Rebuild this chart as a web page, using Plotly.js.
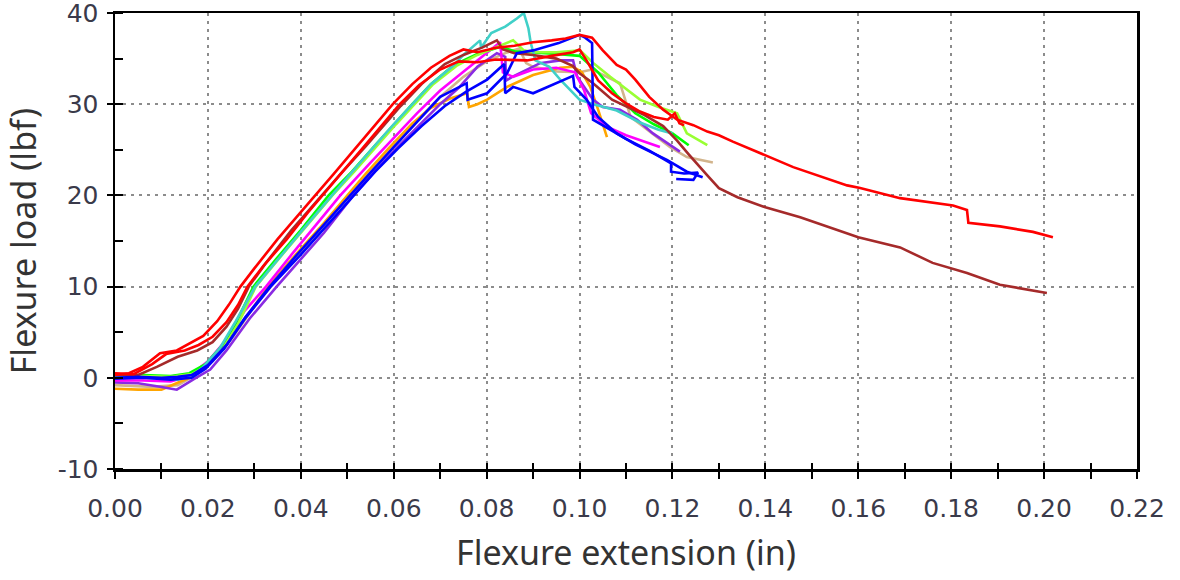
<!DOCTYPE html>
<html>
<head>
<meta charset="utf-8">
<script src="https://cdn.plot.ly/plotly-3.0.1.min.js"></script>
<style>html,body{margin:0;padding:0;background:#fff;}#chart{width:1180px;height:580px;}</style>
</head>
<body>
<div id="chart"></div>
<script>
// Flexure extension (in) / Flexure load (lbf)
const red1X = [0, 0.003, 0.006, 0.0097, 0.0133, 0.016, 0.019, 0.022, 0.0245, 0.027, 0.03, 0.035, 0.04, 0.0431, 0.047, 0.052, 0.056, 0.0598, 0.064, 0.068, 0.072, 0.075, 0.078, 0.082, 0.086, 0.09, 0.094, 0.097, 0.1, 0.1015, 0.1027, 0.105, 0.108, 0.11, 0.112, 0.115, 0.118, 0.121, 0.1245, 0.1275, 0.13, 0.133, 0.14, 0.146, 0.1576, 0.1604, 0.169, 0.1804, 0.1834, 0.1837, 0.1905, 0.1976, 0.2019];
const red1Y = [0.3, 0.5, 1.2, 2.7, 3.0, 3.8, 4.6, 6.2, 8.0, 10.0, 12.0, 15.2, 18.1, 20.0, 22.3, 25.3, 27.7, 30.0, 32.2, 34.0, 35.3, 36.0, 35.7, 36.2, 36.4, 36.8, 37.0, 37.2, 37.6, 37.4, 37.3, 35.9, 34.3, 33.8, 32.7, 30.8, 29.4, 28.3, 27.7, 27.0, 26.6, 25.9, 24.4, 23.1, 21.1, 20.8, 19.7, 18.9, 18.4, 17.0, 16.6, 16.0, 15.4];

const red2X = [0, 0.004, 0.008, 0.011, 0.015, 0.018, 0.021, 0.024, 0.0265, 0.0285, 0.032, 0.037, 0.0415, 0.0446, 0.0485, 0.0535, 0.0575, 0.0613, 0.0655, 0.07, 0.074, 0.078, 0.082, 0.0887, 0.094, 0.0986, 0.1, 0.1015, 0.104, 0.107, 0.11, 0.113, 0.116, 0.119, 0.1205, 0.1215, 0.1225];
const red2Y = [0.5, 0.4, 1.5, 2.6, 3.0, 3.6, 4.5, 6.1, 8.0, 10.0, 12.3, 15.2, 18.1, 20.0, 22.3, 25.3, 27.7, 30.0, 32.1, 33.8, 34.7, 34.6, 34.9, 34.8, 35.3, 35.7, 36.0, 34.8, 32.6, 31.2, 30.1, 29.2, 28.6, 28.3, 29.0, 27.9, 27.7];

const brownX = [0, 0.005, 0.009, 0.0135, 0.0177, 0.021, 0.024, 0.0265, 0.0288, 0.0325, 0.038, 0.0445, 0.049, 0.054, 0.0575, 0.0615, 0.066, 0.071, 0.075, 0.079, 0.0822, 0.0835, 0.086, 0.09, 0.095, 0.0985, 0.1, 0.1029, 0.107, 0.11, 0.114, 0.118, 0.121, 0.1235, 0.1255, 0.1275, 0.13, 0.134, 0.14, 0.1475, 0.16, 0.169, 0.176, 0.1834, 0.1905, 0.2006];
const brownY = [0.3, 0.3, 1.2, 2.3, 3.0, 3.9, 5.6, 7.6, 10.0, 12.6, 16.2, 20.0, 22.6, 25.4, 27.4, 29.8, 32.2, 34.4, 35.4, 36.2, 37.0, 36.0, 35.6, 35.4, 35.0, 34.2, 33.4, 32.3, 30.5, 29.8, 28.8, 27.6, 26.0, 24.5, 23.3, 22.2, 20.8, 19.8, 18.7, 17.6, 15.4, 14.3, 12.6, 11.5, 10.2, 9.3];

const greenX = [0, 0.006, 0.012, 0.016, 0.0195, 0.023, 0.026, 0.0298, 0.035, 0.04, 0.046, 0.051, 0.056, 0.06, 0.064, 0.068, 0.073, 0.078, 0.083, 0.086, 0.09, 0.095, 0.1, 0.104, 0.108, 0.112, 0.116, 0.12, 0.1235];
const greenY = [0.3, 0.3, 0.2, 0.5, 1.5, 3.5, 6.0, 10.0, 13.2, 16.2, 20.0, 22.6, 25.5, 27.8, 30.0, 32.2, 34.3, 35.5, 36.3, 35.8, 35.7, 35.5, 35.3, 33.5, 31.0, 29.0, 27.8, 26.8, 25.5];

const limeX = [0, 0.006, 0.012, 0.0165, 0.02, 0.0235, 0.0265, 0.0303, 0.0355, 0.0405, 0.0468, 0.0515, 0.0565, 0.0605, 0.0645, 0.0685, 0.0735, 0.078, 0.0857, 0.088, 0.09, 0.095, 0.1001, 0.103, 0.1066, 0.1102, 0.113, 0.117, 0.121, 0.1231, 0.1275];
const limeY = [0.2, 0.2, 0.1, 0.4, 1.4, 3.4, 5.9, 10.0, 13.2, 16.2, 20.0, 22.6, 25.5, 27.8, 30.0, 32.2, 34.2, 35.4, 37.0, 35.9, 35.7, 35.7, 35.9, 34.5, 33.0, 31.6, 30.5, 29.7, 29.0, 26.8, 25.5];

const cyanX = [0, 0.006, 0.012, 0.0135, 0.0175, 0.019, 0.0225, 0.026, 0.0302, 0.035, 0.04, 0.0467, 0.051, 0.056, 0.06, 0.064, 0.068, 0.073, 0.075, 0.0786, 0.0788, 0.081, 0.084, 0.0865, 0.088, 0.089, 0.0895, 0.0905, 0.0935, 0.096, 0.098, 0.1, 0.103, 0.108, 0.113, 0.117, 0.12];
const cyanY = [0.2, 0.0, -0.2, -0.2, 0.5, 1.2, 3.2, 6.2, 10.0, 13.0, 16.0, 20.0, 22.6, 25.5, 27.8, 30.0, 32.2, 34.3, 35.4, 37.0, 36.2, 37.8, 38.5, 39.4, 40.0, 38.3, 36.7, 34.8, 34.1, 32.6, 31.6, 30.5, 30.0, 29.3, 28.0, 27.2, 26.8];

const orangeX = [0, 0.005, 0.01, 0.0133, 0.016, 0.0198, 0.023, 0.027, 0.033, 0.038, 0.044, 0.0499, 0.054, 0.059, 0.064, 0.068, 0.072, 0.0758, 0.0762, 0.078, 0.0801, 0.0844, 0.09, 0.0958, 0.0986, 0.1005, 0.1023, 0.104, 0.1059];
const orangeY = [-1.2, -1.3, -1.3, -0.6, 0.0, 1.2, 3.2, 5.8, 10.0, 13.0, 16.4, 20.0, 22.4, 25.2, 27.9, 29.6, 30.6, 31.2, 29.7, 30.0, 30.5, 31.9, 33.2, 34.0, 34.1, 33.5, 31.9, 29.4, 26.4];

const purpleX = [0, 0.005, 0.01, 0.0133, 0.0168, 0.0205, 0.024, 0.029, 0.0348, 0.04, 0.045, 0.0513, 0.056, 0.061, 0.066, 0.07, 0.074, 0.078, 0.0822, 0.084, 0.0842, 0.0855, 0.0915, 0.0958, 0.0986, 0.0995, 0.1029, 0.105, 0.1087, 0.1124, 0.1158, 0.1216];
const purpleY = [-0.5, -0.6, -1.0, -1.3, -0.2, 0.9, 3.0, 6.5, 10.0, 13.0, 15.9, 20.0, 22.7, 25.4, 28.0, 30.0, 31.8, 34.1, 35.6, 35.2, 32.6, 33.0, 34.5, 34.8, 34.8, 33.0, 30.5, 29.7, 29.4, 28.3, 26.8, 24.8];

const tanX = [0, 0.008, 0.0135, 0.017, 0.021, 0.025, 0.0295, 0.034, 0.04, 0.0505, 0.055, 0.06, 0.065, 0.07, 0.075, 0.08, 0.084, 0.087, 0.0885, 0.09, 0.095, 0.1, 0.1027, 0.1087, 0.1094, 0.111, 0.1195, 0.1231, 0.1287];
const tanY = [-0.8, -1.0, -0.8, 0.2, 1.8, 4.2, 7.5, 10.3, 13.8, 20.0, 22.6, 25.4, 28.2, 30.8, 33.0, 34.7, 35.6, 36.1, 34.5, 34.1, 33.6, 33.5, 33.8, 32.3, 31.2, 28.6, 25.3, 24.2, 23.6];

const magentaX = [0, 0.006, 0.012, 0.016, 0.02, 0.024, 0.028, 0.0325, 0.038, 0.0485, 0.055, 0.06, 0.065, 0.07, 0.075, 0.079, 0.0829, 0.0835, 0.0857, 0.09, 0.095, 0.099, 0.101, 0.1025, 0.106, 0.11, 0.1173];
const magentaY = [-0.3, -0.3, -0.4, 0.2, 1.8, 4.2, 7.4, 10.0, 13.5, 20.0, 23.6, 26.3, 29.0, 31.5, 33.6, 35.2, 36.8, 33.5, 33.0, 33.8, 34.0, 33.5, 31.5, 29.0, 27.5, 26.6, 25.3];

const blueAX = [0, 0.005, 0.01, 0.0135, 0.0165, 0.02, 0.024, 0.028, 0.0333, 0.039, 0.045, 0.0505, 0.055, 0.06, 0.065, 0.07, 0.0757, 0.0759, 0.0801, 0.0844, 0.0865, 0.09, 0.0955, 0.1, 0.1012, 0.1027, 0.1029, 0.106, 0.11, 0.115, 0.118, 0.1197, 0.1197, 0.1225, 0.1255, 0.1245, 0.1208];
const blueAY = [0.0, 0.1, 0.0, 0.1, 0.3, 1.4, 3.6, 6.6, 10.0, 13.4, 16.8, 20.0, 22.5, 25.3, 28.0, 30.8, 32.3, 30.5, 31.2, 33.4, 35.6, 35.9, 36.7, 37.6, 37.3, 36.7, 28.3, 27.4, 26.2, 24.9, 24.0, 23.5, 22.6, 22.4, 22.5, 21.7, 21.8];

const blueBX = [0, 0.006, 0.012, 0.0165, 0.0195, 0.0235, 0.028, 0.0335, 0.04, 0.046, 0.0515, 0.056, 0.061, 0.066, 0.071, 0.0757, 0.0801, 0.0838, 0.084, 0.0857, 0.09, 0.0952, 0.0986, 0.0989, 0.1015, 0.104, 0.108, 0.112, 0.116, 0.1188, 0.1231, 0.1265];
const blueBY = [-0.1, 0.0, -0.2, 0.0, 1.0, 3.2, 6.5, 10.0, 13.5, 16.9, 20.0, 22.6, 25.2, 27.6, 29.8, 31.4, 32.7, 34.4, 31.2, 31.9, 31.2, 32.3, 33.1, 31.9, 30.5, 28.6, 26.8, 25.6, 24.6, 23.9, 22.6, 22.0];

const xTickVals = [0, 0.02, 0.04, 0.06, 0.08, 0.10, 0.12, 0.14, 0.16, 0.18, 0.20, 0.22];
const xTickText = ['0.00', '0.02', '0.04', '0.06', '0.08', '0.10', '0.12', '0.14', '0.16', '0.18', '0.20', '0.22'];
const yTickVals = [-10, 0, 10, 20, 30, 40];
const yTickText = ['-10', '0', '10', '20', '30', '40'];

const series = [
  {name: 'tan', x: tanX, y: tanY, color: '#d2b48c'},
  {name: 'orange', x: orangeX, y: orangeY, color: '#ffa500'},
  {name: 'purple', x: purpleX, y: purpleY, color: '#8a2be2'},
  {name: 'magenta', x: magentaX, y: magentaY, color: '#ff00ff'},
  {name: 'green', x: greenX, y: greenY, color: '#00ff00'},
  {name: 'lime', x: limeX, y: limeY, color: '#99ff33'},
  {name: 'cyan', x: cyanX, y: cyanY, color: '#40d0c8'},
  {name: 'brown', x: brownX, y: brownY, color: '#a52a2a'},
  {name: 'blueB', x: blueBX, y: blueBY, color: '#0000ff'},
  {name: 'blueA', x: blueAX, y: blueAY, color: '#0000ff'},
  {name: 'red2', x: red2X, y: red2Y, color: '#ff0000'},
  {name: 'red1', x: red1X, y: red1Y, color: '#ff0000'}
];

const traces = series.map((s, i) => ({
  type: 'scatter', mode: 'lines', x: s.x, y: s.y, name: s.name,
  line: {color: s.color, width: 2.6},
  xaxis: i === series.length - 1 ? 'x2' : 'x',
  hoverinfo: 'skip', showlegend: false
}));

const tickFont = {family: 'DejaVu Sans, Verdana, sans-serif', size: 25, color: '#3a3a4a'};
const titleFont = {family: 'Noto Sans, Open Sans, sans-serif', size: 34, color: '#333333'};

const layout = {
  width: 1180, height: 580,
  margin: {l: 115, r: 43, t: 13, b: 111, pad: 0},
  paper_bgcolor: '#ffffff', plot_bgcolor: '#ffffff',
  showlegend: false,
  xaxis: {
    range: [0, 0.22], tickvals: xTickVals, ticktext: xTickText,
    showline: true, linecolor: '#000', linewidth: 2.5, mirror: true,
    ticks: 'outside', ticklen: 7, tickwidth: 2, tickcolor: '#000',
    minor: {dtick: 0.01, tick0: 0, ticks: 'outside', ticklen: 7, tickwidth: 2, tickcolor: '#000', showgrid: false},
    showgrid: true, gridcolor: '#8c8c8c', gridwidth: 2, griddash: '3px,5px',
    zeroline: false, tickfont: tickFont, ticklabelstandoff: 8, ticklabeloverflow: 'allow',
    title: {text: 'Flexure extension (in)', font: titleFont, standoff: 20},
    automargin: false, fixedrange: true
  },
  xaxis2: {
    range: [0, 0.22], overlaying: 'x', anchor: 'y', side: 'bottom',
    showline: false, showgrid: false, zeroline: false, showticklabels: false,
    tickvals: xTickVals,
    ticks: 'inside', ticklen: 6, tickwidth: 2, tickcolor: '#000',
    minor: {dtick: 0.01, tick0: 0, ticks: 'inside', ticklen: 6, tickwidth: 2, tickcolor: '#000', showgrid: false},
    automargin: false, fixedrange: true
  },
  yaxis: {
    range: [-10, 40], tickvals: yTickVals, ticktext: yTickText,
    showline: true, linecolor: '#000', linewidth: 2.5, mirror: true,
    ticks: 'outside', ticklen: 6, tickwidth: 2, tickcolor: '#000',
    minor: {dtick: 5, tick0: 0, ticks: 'inside', ticklen: 8, tickwidth: 2, tickcolor: '#000', showgrid: false},
    showgrid: true, gridcolor: '#8c8c8c', gridwidth: 2, griddash: '3px,5px',
    zeroline: false, tickfont: tickFont, ticklabelstandoff: 3, ticklabeloverflow: 'allow',
    title: {text: 'Flexure load (lbf)', font: titleFont, standoff: 12},
    automargin: false, fixedrange: true
  }
};

Plotly.newPlot('chart', traces, layout, {staticPlot: true, displayModeBar: false});
</script>
</body>
</html>
